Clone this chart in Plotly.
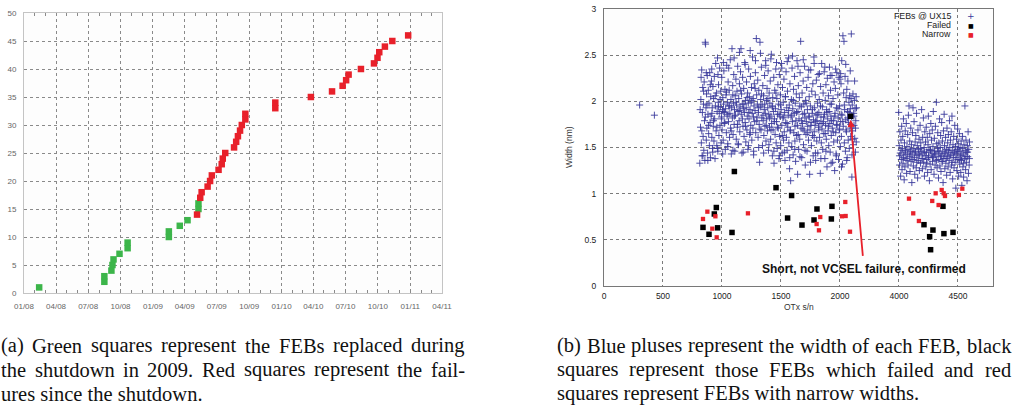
import plotly.graph_objects as go

W, H = 1015, 407

# ---------------- Panel (a): cumulative FEB failures vs date ----------------
green_dates = ['2008-02-13', '2008-08-16', '2008-08-16', '2008-09-05', '2008-09-08',
               '2008-09-11', '2008-09-28', '2008-10-21', '2008-10-21', '2009-02-15',
               '2009-02-15', '2009-03-18', '2009-04-09', '2009-05-10', '2009-05-10']
green_counts = [1, 2, 3, 4, 5, 6, 7, 8, 9, 10, 11, 12, 13, 15, 16]

red_dates = ['2009-05-06', '2009-05-15', '2009-05-19', '2009-06-05', '2009-06-12',
             '2009-06-17', '2009-07-06', '2009-07-15', '2009-07-18', '2009-07-25',
             '2009-08-19', '2009-08-25', '2009-08-30', '2009-09-05', '2009-09-10',
             '2009-09-20', '2009-09-20', '2009-12-14', '2009-12-14', '2010-03-25',
             '2010-05-24', '2010-06-23', '2010-07-03', '2010-07-10', '2010-08-14',
             '2010-09-20', '2010-09-30', '2010-10-05', '2010-10-21', '2010-11-11',
             '2010-12-26']
red_counts = [14, 17, 18, 19, 20, 21, 22, 23, 24, 25, 26, 27, 28, 29, 30, 31, 32,
              33, 34, 35, 36, 37, 38, 39, 40, 41, 42, 43, 44, 45, 46]

# ---------------- Panel (b): width vs OTx serial number ----------------
feb_points = [
    (302, 1.96), (427, 1.85),
    (812,1.33),(818,1.72),(821,2.02),(825,1.55),(828,2.34),(831,1.41),(834,1.88),(837,2.15),(840,1.62),(843,1.97),
    (846,1.47),(849,2.21),(852,1.79),(855,1.36),(858,2.64),(861,2.62),(864,1.93),(867,1.58),(869,2.08),(872,1.71),
    (875,2.28),(878,1.44),(881,1.86),(884,2.12),(887,1.65),(890,1.98),(893,1.52),(896,2.31),(899,1.77),(902,1.39),
    (905,2.05),(908,1.84),(911,2.22),(914,1.61),(917,1.93),(920,1.49),(923,2.16),(926,1.73),(929,2.03),(932,1.57),
    (935,2.27),(938,1.81),(941,1.38),(944,1.95),(947,2.41),(950,1.68),(953,2.09),(956,1.52),(959,1.89),(962,2.47),
    (965,1.46),(968,1.99),(971,2.18),(974,1.63),(977,1.87),(980,2.36),(983,1.74),(986,1.94),(989,2.11),(992,1.55),
    (995,1.83),(998,2.26),(1001,1.69),(1004,1.91),(1007,2.04),(1010,1.58),(1013,1.97),(1016,2.33),(1019,1.76),(1022,1.88),
    (1025,2.13),(1028,1.48),(1031,1.92),(1034,2.07),(1037,1.66),(1040,2.39),(1043,1.84),(1046,1.99),(1049,1.54),(1052,2.21),
    (1055,1.78),(1058,1.95),(1061,2.12),(1064,1.61),(1067,1.87),(1070,2.45),(1073,1.71),(1076,2.02),(1079,1.43),(1082,1.93),
    (1085,2.57),(1088,1.82),(1091,2.17),(1094,1.64),(1097,1.98),(1100,2.29),(1103,1.75),(1106,1.91),(1109,1.46),(1112,2.06),
    (1115,1.85),(1118,2.24),(1121,1.59),(1124,1.96),(1127,2.11),(1130,1.72),(1133,2.38),(1136,1.89),(1139,1.53),(1142,2.03),
    (1145,1.79),(1148,2.19),(1151,1.67),(1154,1.94),(1157,2.32),(1161,2.57),(1163,1.86),(1166,2.08),(1169,1.44),(1172,1.97),
    (1175,2.26),(1178,1.73),(1181,1.92),(1184,2.14),(1187,1.62),(1190,1.88),(1193,2.42),(1196,1.77),(1199,2.01),(1202,1.56),
    (1205,1.93),(1208,2.21),(1211,1.69),(1214,1.84),(1217,2.09),(1220,1.48),(1223,1.98),(1226,2.35),(1229,1.81),(1232,2.05),
    (1235,1.64),(1238,1.91),(1241,2.27),(1244,1.74),(1247,1.99),(1250,2.15),(1253,1.58),(1256,1.87),(1259,2.48),(1262,1.71),
    (1265,2.03),(1268,1.46),(1271,1.95),(1274,2.19),(1277,1.78),(1280,1.90),(1283,2.31),(1286,1.66),(1291,2.68),(1294,2.07),
    (1297,1.83),(1300,1.97),(1303,2.23),(1306,1.61),(1309,1.88),(1312,2.12),(1315,1.75),(1319,1.34),(1322,2.64),(1325,1.94),
    (1328,2.02),(1331,1.69),(1334,2.37),(1337,1.82),(1340,1.96),(1343,1.52),(1346,2.17),(1349,1.79),(1352,2.06),(1355,1.63),
    (1358,1.91),(1361,2.28),(1364,1.73),(1367,1.87),(1370,2.44),(1373,1.57),(1376,2.01),(1379,1.81),(1382,2.14),(1385,1.68),
    (1388,1.93),(1391,2.33),(1394,1.47),(1397,1.86),(1400,2.09),(1403,1.72),(1406,1.98),(1409,2.22),(1412,1.59),(1415,1.84),
    (1418,2.51),(1421,1.76),(1424,1.95),(1427,1.41),(1430,2.04),(1433,1.69),(1436,1.89),(1439,2.26),(1441,1.33),(1444,1.81),
    (1447,2.12),(1450,1.64),(1453,1.92),(1456,2.35),(1459,1.55),(1462,1.78),(1465,2.03),(1468,1.49),(1471,1.86),(1474,2.18),
    (1477,1.71),(1480,1.97),(1483,1.38),(1486,2.29),(1489,1.62),(1492,1.84),(1495,2.07),(1498,1.52),(1501,1.91),(1504,2.41),
    (1507,1.74),(1510,1.44),(1513,2.15),(1516,1.82),(1519,1.99),(1522,1.58),(1525,2.24),(1528,1.67),(1531,1.88),(1534,1.36),
    (1537,2.05),(1540,1.77),(1543,2.32),(1546,1.61),(1549,1.93),(1552,1.47),(1555,2.11),(1558,1.72),(1561,1.85),(1564,2.47),
    (1567,1.55),(1570,1.96),(1573,1.27),(1576,2.19),(1579,1.69),(1582,1.14),(1585,1.83),(1588,2.02),(1591,1.51),(1594,2.36),
    (1597,1.78),(1600,1.92),(1603,1.42),(1606,2.13),(1609,1.66),(1612,1.87),(1615,2.27),(1618,1.57),(1621,1.98),(1624,1.35),
    (1627,1.79),(1630,2.08),(1633,1.63),(1636,2.44),(1639,1.74),(1641,1.21),(1644,1.89),(1647,2.17),(1650,1.48),(1653,1.81),
    (1656,2.04),(1659,1.59),(1662,2.31),(1667,2.65),(1670,1.71),(1673,1.94),(1676,1.39),(1679,2.09),(1682,1.76),(1685,1.86),
    (1688,2.22),(1691,1.53),(1694,1.97),(1697,1.68),(1700,2.38),(1703,1.82),(1706,1.31),(1709,2.01),(1712,1.64),(1715,1.78),
    (1718,2.15),(1721,1.46),(1724,1.91),(1727,1.73),(1730,2.26),(1733,1.58),(1736,1.84),(1739,2.05),(1743,1.21),(1746,1.69),
    (1749,1.95),(1752,2.34),(1755,1.77),(1758,1.52),(1761,2.11),(1764,1.87),(1767,1.63),(1770,2.19),(1773,1.41),(1776,1.80),
    (1779,2.48),(1782,1.67),(1785,1.93),(1788,1.74),(1791,2.07),(1794,1.36),(1797,1.85),(1800,2.23),(1803,1.57),(1806,1.79),
    (1809,1.98),(1812,1.44),(1815,2.29),(1818,1.72),(1821,1.88),(1824,2.02),(1827,1.61),(1830,1.76),(1833,1.22),(1836,2.16),
    (1839,1.83),(1842,1.55),(1845,2.41),(1848,1.70),(1851,1.94),(1854,1.48),(1857,2.09),(1860,1.78),(1863,1.65),(1866,2.32),
    (1869,1.86),(1872,1.38),(1875,2.01),(1878,1.74),(1881,2.18),(1884,1.59),(1887,1.91),(1890,1.29),(1893,2.25),(1896,1.81),
    (1899,1.68),(1902,2.06),(1905,1.52),(1908,1.89),(1911,2.37),(1914,1.76),(1917,1.45),(1920,2.12),(1923,1.84),(1926,1.63),
    (1929,1.97),(1932,2.28),(1935,1.71),(1938,1.34),(1941,2.03),(1944,1.79),(1947,1.56),(1950,2.21),(1955,1.25),(1958,1.87),
    (1961,2.14),(1964,1.66),(1967,1.43),(1970,1.93),(1973,2.31),(1976,1.74),(1979,1.58),(1982,2.07),(1985,1.82),(1988,1.37),
    (1991,2.26),(1994,1.69),(1997,1.95),(2000,2.24),(2003,1.51),(2006,1.78),(2009,2.19),(2012,1.62),(2015,2.44),(2018,1.85),
    (2021,1.32),(2025,2.71),(2028,1.73),(2031,2.09),(2034,2.65),(2037,1.55),(2040,1.91),(2043,2.27),(2046,1.46),(2049,1.80),
    (2052,2.04),(2055,1.67),(2058,2.13),(2061,1.39),(2064,1.89),(2067,2.22),(2070,1.58),(2073,1.77),(2076,1.99),(2079,1.49),
    (2082,2.06),(2085,1.71),(2088,1.92),(2091,1.62),(2094,2.03),(2096,2.73),(2099,1.83),(2101,1.18),(2104,1.96),(2107,1.68),
    (2110,2.08),(2113,1.53),(2116,1.87),(2119,1.74),(2122,2.01),(2125,1.60),(2128,1.92),(2131,1.45),(2134,1.79),(2137,2.05),
    (815,1.91),(829,1.68),(844,2.11),(859,1.83),(873,1.96),(886,1.74),(901,2.18),(915,1.87),(928,1.79),(943,2.06),
    (957,1.72),(970,1.94),(984,2.02),(997,1.81),(1011,1.89),(1024,1.77),(1038,2.10),(1051,1.86),(1065,1.95),(1078,1.68),
    (1092,2.07),(1105,1.84),(1119,1.99),(1132,1.75),(1146,1.90),(1159,2.12),(1173,1.81),(1186,1.97),(1200,1.73),(1213,2.04),
    (1227,1.88),(1240,1.66),(1254,2.01),(1267,1.83),(1281,2.14),(1295,1.79),(1308,1.93),(1321,1.70),(1335,2.08),(1348,1.85),
    (1362,1.97),(1375,1.74),(1389,2.03),(1402,1.82),(1416,1.69),(1429,1.94),(1443,1.78),(1457,2.09),(1470,1.72),(1484,1.86),
    (1497,1.96),(1511,1.63),(1524,1.83),(1538,2.05),(1551,1.76),(1565,1.90),(1578,1.68),(1592,1.85),(1605,2.01),(1619,1.73),
    (1632,1.88),(1646,1.64),(1659,1.95),(1673,1.79),(1686,1.70),(1700,1.87),(1713,1.98),(1727,1.66),(1740,1.83),(1754,1.74),
    (1767,1.91),(1781,1.61),(1794,1.78),(1808,1.86),(1821,1.69),(1835,1.95),(1848,1.76),(1862,1.83),(1875,1.65),(1889,1.88),
    (1902,1.73),(1916,1.97),(1929,1.79),(1943,1.67),(1956,1.84),(1970,1.75),(1983,1.92),(1997,1.70),(2010,1.86),(2024,1.78),
    (2037,1.96),(2051,1.69),(2064,1.82),(2078,1.88),(2091,1.75),(2105,1.59),(2118,1.84),(2132,1.71),(2140,1.93),(2138,1.56),
    (823,2.26),(867,2.31),(913,2.35),(966,2.29),(1012,2.42),(1057,2.36),(1103,2.47),(1148,2.53),(1196,2.40),(1239,2.55),
    (1284,2.44),(1326,2.52),(1371,2.39),(1414,2.46),(1462,2.42),(1507,2.36),(1553,2.43),(1598,2.49),(1644,2.38),(1689,2.45),
    (1735,2.34),(1781,2.41),(1826,2.30),(1872,2.37),(1917,2.28),(1963,2.35),(2006,2.30),(2049,2.40),(2087,2.33),(2124,2.22),
    (838,1.41),(880,1.36),(922,1.45),(963,1.49),(1006,1.43),(1049,1.51),(1093,1.47),(1137,1.54),(1180,1.45),(1224,1.52),
    (1268,1.42),(1311,1.50),(1353,1.44),(1398,1.53),(1440,1.46),(1486,1.41),(1529,1.45),(1574,1.39),(1617,1.48),(1661,1.40),
    (1704,1.47),(1750,1.34),(1792,1.44),(1838,1.38),(1881,1.46),(1925,1.33),(1969,1.41),(2013,1.29),(2057,1.36),(2102,1.42),
    (3998,1.88),(4002,1.52),(4005,1.31),(4008,1.67),(4011,1.44),(4014,1.19),(4017,1.58),(4020,1.37),(4023,1.73),(4026,1.26),
    (4029,1.49),(4032,1.62),(4035,1.33),(4038,1.81),(4041,1.42),(4044,1.15),(4047,1.55),(4050,1.29),(4053,1.68),(4056,1.47),
    (4059,1.38),(4062,1.76),(4065,1.22),(4068,1.51),(4071,1.43),(4074,1.64),(4077,1.31),(4080,1.85),(4085,1.95),(4088,1.40),
    (4091,1.57),(4094,1.24),(4097,1.46),(4100,1.71),(4103,1.35),(4106,1.53),(4109,1.12),(4112,1.44),(4115,1.66),(4119,1.93),
    (4122,1.30),(4125,1.49),(4128,1.78),(4131,1.39),(4134,1.21),(4137,1.56),(4140,1.45),(4143,1.63),(4146,1.28),(4149,1.87),
    (4152,1.41),(4155,1.52),(4158,1.17),(4161,1.69),(4164,1.36),(4167,1.48),(4170,1.59),(4173,1.25),(4176,1.42),(4179,1.74),
    (4182,1.33),(4185,1.55),(4188,1.46),(4192,1.91),(4195,1.38),(4198,1.27),(4201,1.61),(4204,1.44),(4207,1.82),(4210,1.34),
    (4213,1.50),(4216,1.19),(4219,1.67),(4222,1.41),(4225,1.56),(4228,1.29),(4231,1.72),(4234,1.45),(4237,1.37),(4240,1.61),
    (4243,1.23),(4246,1.53),(4249,1.84),(4252,1.39),(4255,1.48),(4258,1.14),(4261,1.65),(4264,1.32),(4267,1.47),(4270,1.76),
    (4273,1.26),(4276,1.58),(4279,1.43),(4282,1.69),(4285,1.35),(4288,1.51),(4291,1.89),(4294,1.40),(4297,1.21),(4300,1.60),
    (4303,1.46),(4306,1.31),(4309,1.73),(4312,1.42),(4317,1.99),(4320,1.54),(4323,1.28),(4326,1.49),(4329,1.66),(4332,1.37),
    (4335,1.17),(4338,1.55),(4341,1.44),(4344,1.81),(4347,1.30),(4350,1.50),(4353,1.63),(4356,1.24),(4359,1.41),(4362,1.77),
    (4365,1.35),(4368,1.57),(4371,1.46),(4374,1.12),(4377,1.68),(4380,1.38),(4383,1.86),(4386,1.52),(4389,1.27),(4392,1.44),
    (4395,1.61),(4398,1.33),(4401,1.48),(4404,1.20),(4407,1.71),(4410,1.40),(4413,1.55),(4416,1.29),(4419,1.64),(4422,1.45),
    (4425,1.36),(4428,1.79),(4431,1.50),(4434,1.23),(4437,1.58),(4440,1.42),(4443,1.67),(4446,1.31),(4449,1.84),(4452,1.47),
    (4455,1.16),(4458,1.53),(4461,1.39),(4464,1.62),(4467,1.28),(4470,1.45),(4473,1.74),(4476,1.34),(4479,1.51),(4482,1.06),
    (4485,1.43),(4488,1.59),(4491,1.25),(4494,1.48),(4497,1.70),(4500,1.37),(4503,1.54),(4506,1.19),(4509,1.46),(4512,1.65),
    (4515,1.32),(4518,1.50),(4521,1.41),(4524,1.23),(4527,1.57),(4530,1.36),(4533,1.09),(4536,1.49),(4539,1.62),(4542,1.29),
    (4545,1.44),(4548,1.18),(4551,1.53),(4554,1.38),(4559,1.95),(4562,1.47),(4565,1.26),(4568,1.58),(4571,1.34),(4574,1.45),
    (4577,1.14),(4580,1.52),(4583,1.40),(4586,1.67),(4589,1.22),(4592,1.48),(4595,1.31),(4598,1.56),
    (4004,1.41),(4019,1.47),(4036,1.39),(4052,1.45),(4069,1.36),(4086,1.48),(4101,1.42),(4118,1.37),(4135,1.46),(4151,1.34),
    (4168,1.43),(4184,1.49),(4202,1.38),(4218,1.45),(4235,1.33),(4251,1.41),(4268,1.47),(4284,1.39),(4301,1.44),(4318,1.36),
    (4334,1.46),(4351,1.40),(4367,1.35),(4384,1.43),(4400,1.38),(4417,1.47),(4433,1.41),(4450,1.34),(4466,1.44),(4483,1.39),
    (4500,1.46),(4516,1.37),(4533,1.42),(4549,1.33),(4566,1.40),(4582,1.45),(4597,1.38),
]

failed_sn = [839, 890, 935, 952, 963, 1085, 1105, 1458, 1556, 1590, 1678, 1780, 1805, 1927, 1932, 2090,
             4212, 4260, 4268, 4288, 4373, 4381, 4458]
failed_width = [0.635, 0.56, 0.78, 0.85, 0.63, 0.58, 1.24, 1.065, 0.736, 0.98, 0.66, 0.715, 0.834, 0.726, 0.863, 1.838,
                0.664, 0.534, 0.393, 0.606, 0.863, 0.567, 0.581]

narrow_sn = [839, 876, 918, 944, 955, 1220, 1802, 1822, 1833, 2017, 2045, 2048, 2085,
             4085, 4121, 4169, 4282, 4311, 4336, 4362, 4379, 4390, 4508, 4537]
narrow_width = [0.726, 0.805, 0.621, 0.755, 0.527, 0.787, 0.671, 0.603, 0.747, 0.755, 0.91, 0.758, 0.588,
                0.946, 0.787, 0.704, 0.921, 1.004, 0.877, 1.04, 1.004, 0.975, 0.986, 1.054]

sn_tick_labels = [0, 500, 1000, 1500, 2000, 4000, 4500]
SN_GAP = 1500  # the axis skips the serial range 2500-4000


def axis_pos(sn):
    return sn - SN_GAP if sn >= 3000 else sn


BLUE = '#3a3a9c'
GREEN = '#3cb54a'
RED = '#e8202a'
SANS = 'Liberation Sans, Arial, sans-serif'
SERIF = 'Liberation Serif, Times New Roman, serif'

fig = go.Figure()

# panel (a)
fig.add_trace(go.Scatter(x=green_dates, y=green_counts, mode='markers', xaxis='x', yaxis='y',
                         marker=dict(symbol='square', size=6.5, color=GREEN, line=dict(width=0)),
                         showlegend=False, name='replaced'))
fig.add_trace(go.Scatter(x=red_dates, y=red_counts, mode='markers', xaxis='x', yaxis='y',
                         marker=dict(symbol='square', size=6.5, color=RED, line=dict(width=0)),
                         showlegend=False, name='failures'))

# panel (b)
fig.add_trace(go.Scatter(x=[axis_pos(s) for s, _ in feb_points], y=[w for _, w in feb_points],
                         mode='markers', xaxis='x2', yaxis='y2', name='FEBs @ UX15', showlegend=False,
                         marker=dict(symbol='cross-thin', size=5, color=BLUE, line=dict(width=0.9, color=BLUE))))
fig.add_trace(go.Scatter(x=[axis_pos(s) for s in failed_sn], y=failed_width, mode='markers',
                         xaxis='x2', yaxis='y2', name='Failed', showlegend=False,
                         marker=dict(symbol='square', size=5.5, color='#000000', line=dict(width=0))))
fig.add_trace(go.Scatter(x=[axis_pos(s) for s in narrow_sn], y=narrow_width, mode='markers',
                         xaxis='x2', yaxis='y2', name='Narrow', showlegend=False,
                         marker=dict(symbol='square', size=4.3, color=RED, line=dict(width=0))))

fig.update_layout(
    template='none',
    width=W, height=H, margin=dict(l=0, r=0, t=0, b=0, pad=0),
    paper_bgcolor='white', plot_bgcolor='#fdfdfd', showlegend=False,
    xaxis=dict(domain=[24 / W, 442 / W], anchor='y', type='date', automargin=False,
               range=['2008-01-01', '2011-04-01'], dtick='M3', tick0='2008-01-01', tickformat='%m/%y',
               showgrid=True, gridcolor='#8a8a8a', griddash='dot', gridwidth=1,
               showline=True, linecolor='#c4c4c4', linewidth=1, mirror='allticks',
               ticks='inside', ticklen=3, tickcolor='#8a8a8a',
               minor=dict(dtick='M1', tick0='2008-01-01', ticks='inside', ticklen=3,
                          tickcolor='#8a8a8a', showgrid=False),
               tickfont=dict(family=SANS, size=8, color='#666666'), ticklabelstandoff=5,
               zeroline=False),
    yaxis=dict(domain=[1 - 293 / H, 1 - 13 / H], anchor='x', range=[0, 50], dtick=5, automargin=False,
               showgrid=True, gridcolor='#8a8a8a', griddash='dot', gridwidth=1,
               showline=True, linecolor='#c4c4c4', linewidth=1, mirror=True, ticks='',
               tickfont=dict(family=SANS, size=8, color='#666666'), ticklabelstandoff=5,
               zeroline=False),
    xaxis2=dict(domain=[604 / W, 993 / W], anchor='y2', range=[0, 3297], automargin=False,
                tickmode='array', tickvals=[axis_pos(v) for v in sn_tick_labels],
                ticktext=[str(v) for v in sn_tick_labels],
                showgrid=True, gridcolor='#7a7a7a', griddash='dot', gridwidth=1,
                showline=True, linecolor='#777777', linewidth=1, mirror=True, ticks='',
                tickfont=dict(family=SANS, size=8.5, color='#222222'), ticklabelstandoff=2,
                zeroline=False),
    yaxis2=dict(domain=[1 - 286 / H, 1 - 9 / H], anchor='x2', range=[0, 3], dtick=0.5, automargin=False,
                showgrid=True, gridcolor='#7a7a7a', griddash='dot', gridwidth=1,
                showline=True, linecolor='#777777', linewidth=1, mirror=True, ticks='',
                tickfont=dict(family=SANS, size=8.5, color='#222222'), ticklabelstandoff=5,
                zeroline=False),
)

# axis titles of panel (b)
fig.add_annotation(text='Width (nm)', x=569 / W, y=1 - 147 / H, xref='paper', yref='paper',
                   xanchor='center', yanchor='middle',
                   textangle=-90, showarrow=False, font=dict(family=SANS, size=8.5, color='#333333'))
fig.add_annotation(text='OTx s/n', x=799 / W, y=1 - 307 / H, xref='paper', yref='paper',
                   xanchor='center', yanchor='middle',
                   showarrow=False, font=dict(family=SANS, size=8.5, color='#333333'))

# legend of panel (b) (text right-aligned, symbol on the right like gnuplot)
legend_rows = [('FEBs @ UX15', '+', BLUE, 16), ('Failed', '■', '#000000', 25), ('Narrow', '■', RED, 34)]
for label, sym, col, ypx in legend_rows:
    fig.add_annotation(text=label, x=953 / W, y=1 - ypx / H, xref='paper', yref='paper', xanchor='right',
                       yanchor='middle', showarrow=False, font=dict(family=SANS, size=8.8, color='#222222'))
    fig.add_annotation(text=sym, x=971 / W, y=1 - ypx / H, xref='paper', yref='paper', xanchor='center',
                       yanchor='middle', showarrow=False,
                       font=dict(family='DejaVu Sans', size=9 if sym == '+' else 6, color=col))

# red arrow and comment
fig.add_annotation(x=axis_pos(2090), y=1.80, ax=axis_pos(2195), ay=0.31, xref='x2', yref='y2',
                   axref='x2', ayref='y2', text='', showarrow=True, arrowhead=2, arrowsize=0.8,
                   arrowwidth=1.8, arrowcolor=RED)
fig.add_annotation(text='<b>Short, not VCSEL failure, confirmed</b>', x=axis_pos(2203), y=0.184,
                   xref='x2', yref='y2', xanchor='center', yanchor='middle', showarrow=False,
                   font=dict(family=SANS, size=12, color='#111111'))

# ---------------- captions (justified like LaTeX) ----------------
TIMES = {' ': 250, '(': 333, ')': 333, ',': 250, '-': 333, '.': 250, '@': 921,
         'A': 722, 'B': 667, 'C': 667, 'D': 722, 'E': 611, 'F': 556, 'G': 722, 'R': 667,
         'a': 444, 'b': 500, 'c': 444, 'd': 500, 'e': 444, 'f': 333, 'g': 500, 'h': 500, 'i': 278,
         'j': 278, 'k': 500, 'l': 278, 'm': 778, 'n': 500, 'o': 500, 'p': 500, 'q': 500, 'r': 333,
         's': 389, 't': 278, 'u': 500, 'v': 500, 'w': 722, 'x': 500, 'y': 500, 'z': 444}
CAP_FS = 20.5


def text_width(s, fs):
    return sum(TIMES.get(c, 500) for c in s) / 1000 * fs


def caption_line(text, x0, x1, baseline, justify):
    ybox = 1 - (baseline + 0.216 * CAP_FS) / H
    if not justify:
        fig.add_annotation(text=text, x=x0 / W, y=ybox, xref='paper', yref='paper', xanchor='left',
                           yanchor='bottom', showarrow=False, borderpad=0, borderwidth=0,
                           font=dict(family=SERIF, size=CAP_FS, color='#111111'))
        return
    words = text.split(' ')
    widths = [text_width(w, CAP_FS) for w in words]
    gap = (x1 - x0 - sum(widths)) / (len(words) - 1)
    x = x0
    for w, wd in zip(words, widths):
        fig.add_annotation(text=w, x=x / W, y=ybox, xref='paper', yref='paper', xanchor='left',
                           yanchor='bottom', showarrow=False, borderpad=0, borderwidth=0,
                           font=dict(family=SERIF, size=CAP_FS, color='#111111'))
        x += wd + gap


caption_a = ['(a) Green squares represent the FEBs replaced during',
             'the shutdown in 2009. Red squares represent the fail-',
             'ures since the shutdown.']
caption_b = ['(b) Blue pluses represent the width of each FEB, black',
             'squares represent those FEBs which failed and red',
             'squares represent FEBs with narrow widths.']
baselines = [353, 377, 401]
for i, line in enumerate(caption_a):
    caption_line(line, 1, 465, baselines[i], justify=(i < 2))
for i, line in enumerate(caption_b):
    caption_line(line, 557, 1011, baselines[i], justify=(i < 2))

fig.write_html('out.html', config={'displayModeBar': False},
               post_script="document.body.style.margin='0';document.body.style.padding='0';"
                           "document.body.style.overflow='hidden';")
